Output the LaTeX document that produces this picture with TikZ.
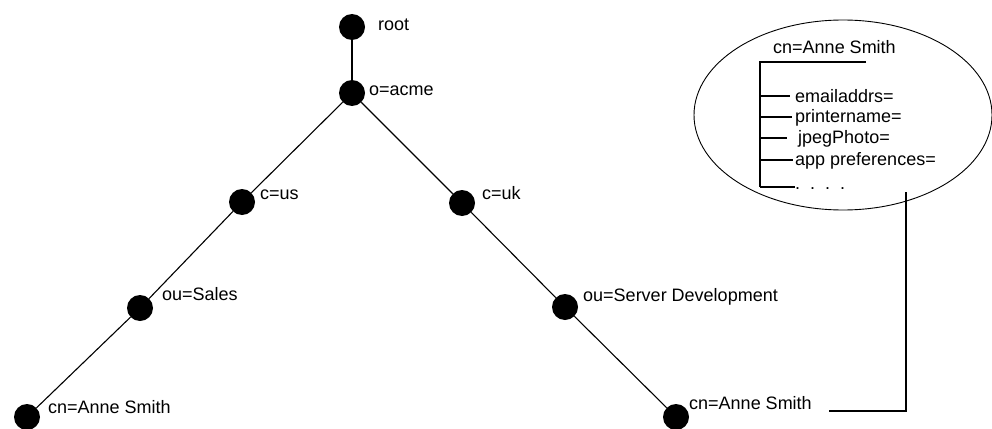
\documentclass[tikz,border=0pt]{standalone}
\usepackage{fontspec}
\setmainfont{Liberation Sans}
\usetikzlibrary{shapes.geometric}
\begin{document}
\begin{tikzpicture}[x=1pt,y=-1pt,
  dot/.style={circle,fill=black,inner sep=0pt,minimum size=26pt},
  lbl/.style={anchor=base west,inner sep=0pt,font=\fontsize{18}{20}\selectfont},
  treeedge/.style={line width=1.1pt},
  attr/.style={line width=1.8pt},
  bubble/.style={draw,ellipse,line width=0.9pt,inner sep=0pt,minimum width=298pt,minimum height=190pt}]
\useasboundingbox (0,0) rectangle (992,428);
% tree nodes
\node[dot] (root) at (352,27) {};
\node[dot] (acme) at (352,93) {};
\node[dot] (us) at (242,202) {};
\node[dot] (uk) at (462,203) {};
\node[dot] (sales) at (140,308) {};
\node[dot] (server) at (565,307) {};
\node[dot] (cnl) at (27,417) {};
\node[dot] (cnr) at (676,417) {};
% edges
\draw[treeedge] (root) -- (acme);
\draw[treeedge] (acme) -- (us);
\draw[treeedge] (acme) -- (uk);
\draw[treeedge] (us) -- (sales);
\draw[treeedge] (sales) -- (cnl);
\draw[treeedge] (uk) -- (server);
\draw[treeedge] (server) -- (cnr);
% labels
\node[lbl] (lroot) at (378,31) {root};
\node[lbl] (lacme) at (369,95) {o=acme};
\node[lbl] (lus) at (260,199) {c=us};
\node[lbl] (luk) at (482,199) {c=uk};
\node[lbl] (lsales) at (162,300) {ou=Sales};
\node[lbl] (lserver) at (583,301) {ou=Server Development};
\node[lbl] (lcnl) at (48,413) {cn=Anne Smith};
\node[lbl] (lcnr) at (689,409) {cn=Anne Smith};
% bubble
\node[bubble] (entry) at (843,115) {};
\node[lbl] (acn) at (773,54) {cn=Anne Smith};
\coordinate (atopend) at (866,62);
\coordinate (atop) at (760,62);
\coordinate (abot) at (760,187);
\draw[attr] (atopend) -- (atop) -- (abot);
\coordinate (b1) at (760,96);  \coordinate (e1) at (790,96);
\coordinate (b2) at (760,117); \coordinate (e2) at (792,117);
\coordinate (b3) at (760,138); \coordinate (e3) at (787,138);
\coordinate (b4) at (760,160); \coordinate (e4) at (793,160);
\coordinate (e5) at (795,187);
\draw[attr] (b1) -- (e1);
\draw[attr] (b2) -- (e2);
\draw[attr] (b3) -- (e3);
\draw[attr] (b4) -- (e4);
\draw[attr] (abot) -- (e5);
\node[lbl] (aemail) at (795,102) {emailaddrs=};
\node[lbl] (aprint) at (795,122) {printername=};
\node[lbl] (ajpeg) at (798,143) {jpegPhoto=};
\node[lbl] (aapp) at (795,165) {app preferences=};
\node[lbl] (adots) at (795,189) {.\ \ .\ \ .\ \ .};
% connector from entry to bubble
\coordinate (cs) at (829,411);
\coordinate (ce) at (906,411);
\coordinate (ct) at (906,192);
\draw[attr] (cs) -- (ce) -- (ct);
\end{tikzpicture}
\end{document}
